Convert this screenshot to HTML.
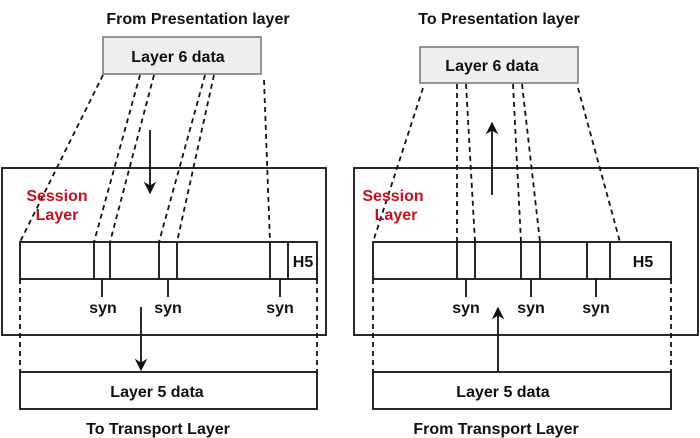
<!DOCTYPE html>
<html><head><meta charset="utf-8"><style>
html,body{margin:0;padding:0;background:#fff;}
svg{display:block;}
text{font-family:"Liberation Sans",Arial,sans-serif;font-weight:bold;font-size:16px;fill:#111;}
</style></head><body>
<svg width="700" height="438" viewBox="0 0 700 438" xmlns="http://www.w3.org/2000/svg">
<defs>
<marker id="ah" viewBox="0 0 10 10" refX="9" refY="5" markerWidth="7" markerHeight="7" orient="auto"><path d="M0,0 L10,5 L0,10 L3,5 z" fill="#111"/></marker>
</defs>
<g stroke="#111" stroke-width="1.8" fill="none">
<!-- LEFT -->
<rect x="2" y="168" width="324" height="167"/>
<rect x="103" y="37" width="158" height="37" fill="#eeeeee" stroke="#888"/>
<rect x="20" y="242" width="297" height="37" fill="#fff"/>
<line x1="94" y1="242" x2="94" y2="279"/><line x1="110" y1="242" x2="110" y2="279"/>
<line x1="159" y1="242" x2="159" y2="279"/><line x1="177" y1="242" x2="177" y2="279"/>
<line x1="270" y1="242" x2="270" y2="279"/><line x1="288" y1="242" x2="288" y2="279"/>
<line x1="102" y1="279" x2="102" y2="297"/><line x1="168" y1="279" x2="168" y2="297"/><line x1="280" y1="279" x2="280" y2="297"/>
<rect x="20" y="372" width="297" height="37"/>
<line x1="150" y1="130" x2="150" y2="193" marker-end="url(#ah)"/>
<line x1="141" y1="307" x2="141" y2="370" marker-end="url(#ah)"/>
<g stroke-dasharray="5,4">
<line x1="103" y1="75" x2="20" y2="242"/>
<line x1="140" y1="75" x2="94" y2="242"/>
<line x1="154" y1="75" x2="110" y2="242"/>
<line x1="205" y1="75" x2="159" y2="242"/>
<line x1="214" y1="75" x2="177" y2="242"/>
<line x1="264" y1="80" x2="270" y2="242"/>
<line x1="20" y1="279" x2="20" y2="372"/>
<line x1="317" y1="279" x2="317" y2="372"/>
</g>
<!-- RIGHT -->
<rect x="354" y="168" width="344" height="167"/>
<rect x="420" y="47" width="158" height="36" fill="#eeeeee" stroke="#888"/>
<rect x="373" y="242" width="298" height="37" fill="#fff"/>
<line x1="457" y1="242" x2="457" y2="279"/><line x1="475" y1="242" x2="475" y2="279"/>
<line x1="521" y1="242" x2="521" y2="279"/><line x1="540" y1="242" x2="540" y2="279"/>
<line x1="587" y1="242" x2="587" y2="279"/><line x1="610" y1="242" x2="610" y2="279"/>
<line x1="466" y1="279" x2="466" y2="297"/><line x1="531" y1="279" x2="531" y2="297"/><line x1="596" y1="279" x2="596" y2="297"/>
<rect x="373" y="372" width="298" height="37"/>
<line x1="492" y1="195" x2="492" y2="123" marker-end="url(#ah)"/>
<line x1="498" y1="372" x2="498" y2="308" marker-end="url(#ah)"/>
<g stroke-dasharray="5,4">
<line x1="423" y1="88" x2="373" y2="242"/>
<line x1="457" y1="84" x2="457" y2="242"/>
<line x1="466" y1="84" x2="475" y2="242"/>
<line x1="513" y1="84" x2="521" y2="242"/>
<line x1="522" y1="84" x2="540" y2="242"/>
<line x1="578" y1="88" x2="620" y2="242"/>
<line x1="373" y1="279" x2="373" y2="372"/>
<line x1="671" y1="279" x2="671" y2="372"/>
</g>
</g>
<g text-anchor="middle">
<text x="198" y="24">From Presentation layer</text>
<text x="178" y="62">Layer 6 data</text>
<text x="57" y="201" style="fill:#c8101e">Session</text>
<text x="57" y="220" style="fill:#c8101e">Layer</text>
<text x="303" y="267">H5</text>
<text x="103" y="313">syn</text><text x="168" y="313">syn</text><text x="280" y="313">syn</text>
<text x="157" y="397">Layer 5 data</text>
<text x="158" y="434">To Transport Layer</text>

<text x="499" y="24">To Presentation layer</text>
<text x="492" y="71">Layer 6 data</text>
<text x="393" y="201" style="fill:#c8101e">Session</text>
<text x="396" y="220" style="fill:#c8101e">Layer</text>
<text x="643" y="267">H5</text>
<text x="466" y="313">syn</text><text x="531" y="313">syn</text><text x="596" y="313">syn</text>
<text x="503" y="397">Layer 5 data</text>
<text x="496" y="434">From Transport Layer</text>
</g>
</svg>
</body></html>
